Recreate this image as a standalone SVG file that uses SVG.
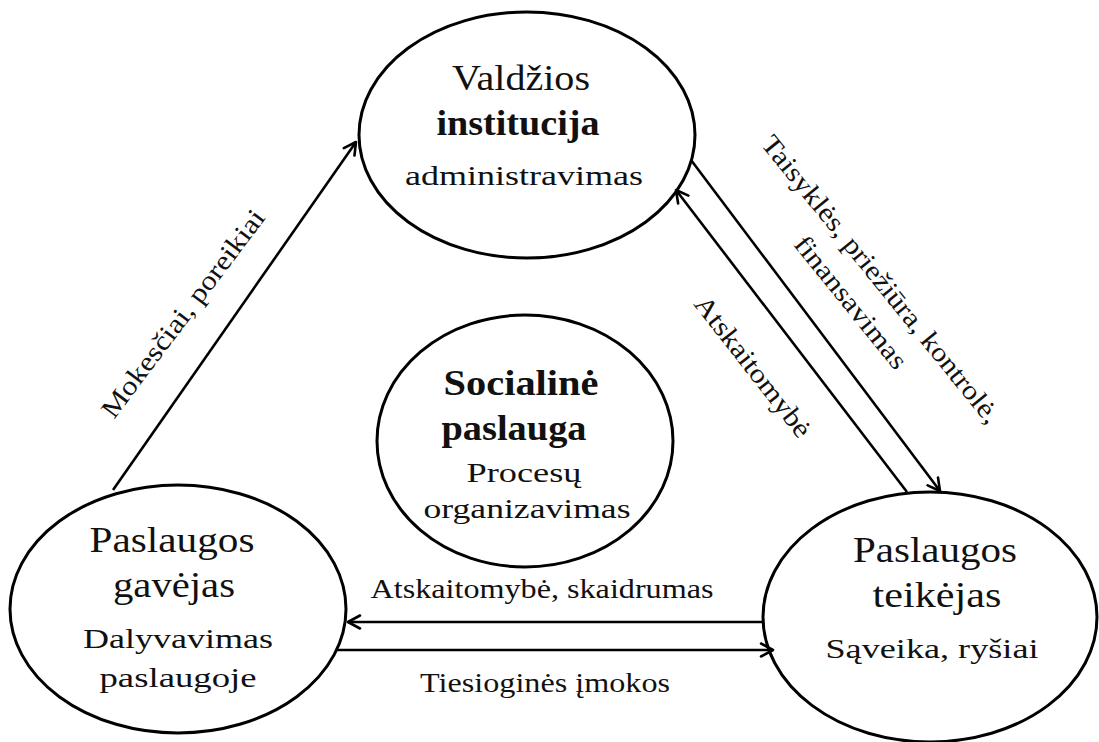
<svg xmlns="http://www.w3.org/2000/svg" width="1099" height="742" viewBox="0 0 1099 742">
<style>
.node ellipse{fill:#fff;stroke:#000;stroke-width:3}
text{font-family:"Liberation Serif","Times New Roman",serif;fill:#111;text-anchor:middle}
.t{font-size:36px}
.b{font-weight:bold}
.s{font-size:28px}
.l{font-size:27px}
.conn line{stroke:#000;stroke-width:2.6;fill:none}
</style>
<defs>
<marker id="arr" viewBox="0 0 16 16" refX="14" refY="8" markerWidth="16" markerHeight="16" markerUnits="userSpaceOnUse" orient="auto">
<path d="M2,1.5 L14,8 L2,14.5" fill="none" stroke="#000" stroke-width="2.6" stroke-linecap="round" stroke-linejoin="round"/>
</marker>
</defs>
<rect width="1099" height="742" fill="#fff"/>
<g id="valdzios" class="node">
<ellipse cx="527" cy="135" rx="168" ry="123"/>
<text class="t" x="521" y="90" textLength="138" lengthAdjust="spacingAndGlyphs">Valdžios</text>
<text class="t b" x="518" y="135" textLength="163" lengthAdjust="spacingAndGlyphs">institucija</text>
<text class="s" x="524" y="185" textLength="238" lengthAdjust="spacingAndGlyphs">administravimas</text>
</g>
<g id="socialine" class="node">
<ellipse cx="525" cy="441" rx="148" ry="126"/>
<text class="t b" x="521" y="395" font-size="33" textLength="155" lengthAdjust="spacingAndGlyphs">Socialinė</text>
<text class="t b" x="514" y="440" font-size="33" textLength="145" lengthAdjust="spacingAndGlyphs">paslauga</text>
<text class="s" x="524" y="482" textLength="115" lengthAdjust="spacingAndGlyphs">Procesų</text>
<text class="s" x="527" y="518" textLength="207" lengthAdjust="spacingAndGlyphs">organizavimas</text>
</g>
<g id="gavejas" class="node">
<ellipse cx="178" cy="609" rx="168" ry="124"/>
<text class="t" x="172" y="552" font-size="33" textLength="165" lengthAdjust="spacingAndGlyphs">Paslaugos</text>
<text class="t" x="174" y="597" font-size="33" textLength="122" lengthAdjust="spacingAndGlyphs">gavėjas</text>
<text class="s" x="178" y="648" font-size="27" textLength="190" lengthAdjust="spacingAndGlyphs">Dalyvavimas</text>
<text class="s" x="178" y="687" font-size="27" textLength="157" lengthAdjust="spacingAndGlyphs">paslaugoje</text>
</g>
<g id="teikejas" class="node">
<ellipse cx="930" cy="617" rx="167" ry="125"/>
<text class="t" x="935" y="562" font-size="33" textLength="164" lengthAdjust="spacingAndGlyphs">Paslaugos</text>
<text class="t" x="937" y="607" font-size="33" textLength="129" lengthAdjust="spacingAndGlyphs">teikėjas</text>
<text class="s" x="932" y="658" font-size="27" textLength="213" lengthAdjust="spacingAndGlyphs">Sąveika, ryšiai</text>
</g>
<g id="connectors" class="conn">
<line x1="113" y1="490" x2="356" y2="142" marker-end="url(#arr)"/>
<line x1="691" y1="160" x2="940" y2="491" marker-end="url(#arr)"/>
<line x1="907" y1="492" x2="676" y2="190" marker-end="url(#arr)"/>
<line x1="763" y1="622" x2="348" y2="622" marker-end="url(#arr)"/>
<line x1="337" y1="650" x2="773" y2="650" marker-end="url(#arr)"/>
</g>
<g id="labels">
<text class="l" transform="translate(190,319) rotate(-53)" textLength="253" lengthAdjust="spacingAndGlyphs">Mokesčiai, poreikiai</text>
<text class="l" transform="translate(874,285) rotate(51)" textLength="362" lengthAdjust="spacingAndGlyphs">Taisyklės, priežiūra, kontrolė,</text>
<text class="l" transform="translate(844,308) rotate(51)" textLength="163" lengthAdjust="spacingAndGlyphs">finansavimas</text>
<text class="l" transform="translate(746,372) rotate(52)" textLength="172" lengthAdjust="spacingAndGlyphs">Atskaitomybė</text>
<text class="l" x="542" y="598" textLength="343" lengthAdjust="spacingAndGlyphs">Atskaitomybė, skaidrumas</text>
<text class="l" x="545" y="692" textLength="250" lengthAdjust="spacingAndGlyphs">Tiesioginės įmokos</text>
</g>
</svg>
